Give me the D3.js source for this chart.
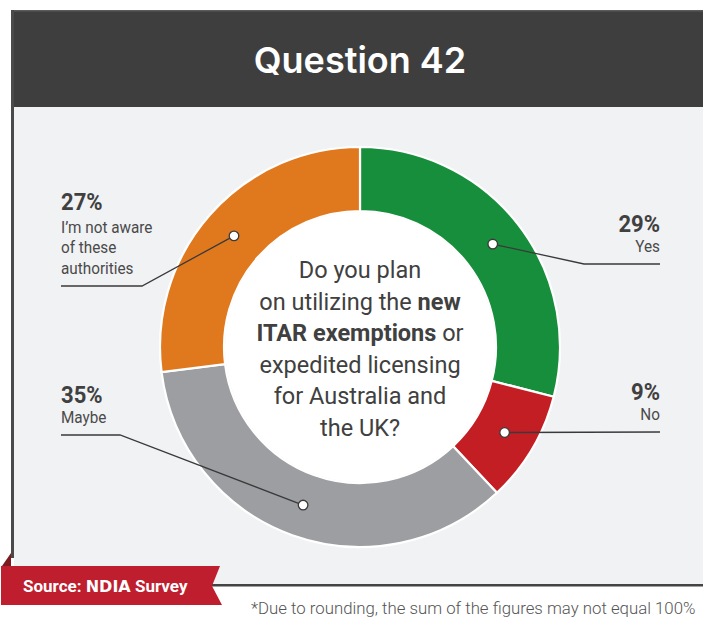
<!DOCTYPE html>
<html>
<head>
<meta charset="utf-8">
<script src="https://cdn.jsdelivr.net/npm/d3@7"></script>
<style>
  html, body { margin: 0; padding: 0; background: #ffffff; }
  svg { display: block; }
</style>
</head>
<body>
<svg id="chart" width="703" height="619"></svg>
<script>
// Survey answers, in drawing order clockwise from 12 o'clock
const categories = ["Yes", "No", "Maybe", "I\u2019m not aware of these authorities"];
const values = [29, 9, 35, 27];
const valueLabels = ["29%", "9%", "35%", "27%"];
const labelLines = [["Yes"], ["No"], ["Maybe"], ["I\u2019m not aware", "of these", "authorities"]];
const colors = ["#178e3b", "#c41e25", "#9d9ea2", "#e0791e"];

const title = "Question 42";
// question lines as [text, bold] runs
const questionLines = [
  [["Do you plan", false]],
  [["on utilizing the ", false], ["new", true]],
  [["ITAR exemptions", true], [" or", false]],
  [["expedited licensing", false]],
  [["for Australia and", false]],
  [["the UK?", false]]
];
const footnote = "*Due to rounding, the sum of the figures may not equal 100%";

const svg = d3.select("#chart");
const W = 703, H = 619;
const ink = "#404040";

// ---- frame: header bar, panel, border lines ----
svg.append("rect").attr("x", 11).attr("y", 10).attr("width", W - 11).attr("height", 97).attr("fill", "#3e3e3e");
svg.append("rect").attr("x", 11).attr("y", 10).attr("width", W - 11).attr("height", 1.5).attr("fill", "#5a5a5a");
svg.append("rect").attr("x", 14).attr("y", 107).attr("width", W - 14).attr("height", 477).attr("fill", "#f1f2f4");
svg.append("rect").attr("x", 11).attr("y", 10).attr("width", 3).attr("height", 548).attr("fill", "#4a4a4a");
svg.append("rect").attr("x", 210).attr("y", 584).attr("width", W - 210).attr("height", 2.5).attr("fill", "#444444");

svg.append("text")
  .attr("x", 360).attr("y", 73)
  .attr("text-anchor", "middle")
  .attr("font-family", "Inter, 'Open Sans', sans-serif")
  .attr("font-weight", 600)
  .attr("font-size", 36)
  .attr("fill", "#ffffff")
  .text(title);

// ---- donut ----
const cx = 360, cy = 347, rOuter = 200, rInner = 136;
const g = svg.append("g").attr("transform", `translate(${cx},${cy})`);

const pie = d3.pie().sort(null).value(d => d).startAngle(0).endAngle(2 * Math.PI);
const arcs = pie(values);
const arc = d3.arc().innerRadius(rInner).outerRadius(rOuter);

g.selectAll("path.slice")
  .data(arcs)
  .join("path")
  .attr("class", "slice")
  .attr("d", arc)
  .attr("fill", (d, i) => colors[i])
  .attr("stroke", "#ffffff")
  .attr("stroke-width", 2.2);

g.append("circle").attr("r", rInner - 1).attr("fill", "#ffffff");

// question text in the hole
const qText = g.append("text")
  .attr("text-anchor", "middle")
  .attr("font-family", "Roboto, sans-serif")
  .attr("font-size", 23.5)
  .attr("fill", ink);
const lineH = 31.6;
questionLines.forEach((runs, i) => {
  const line = qText.append("tspan").attr("x", 0).attr("y", -69 + i * lineH);
  runs.forEach(([s, bold]) => {
    line.append("tspan").attr("font-weight", bold ? 700 : 400).text(s);
  });
});

// ---- callouts ----
// label block placement for each slice (side, text x, first baseline, leader y, elbow x)
const callouts = [
  { side: "right", x: 660, y: 232, lineY: 264, elbowX: 584 },
  { side: "right", x: 660, y: 400, lineY: 432, elbowX: null },
  { side: "left",  x: 61,  y: 403, lineY: 435, elbowX: 120 },
  { side: "left",  x: 61,  y: 210, lineY: 286, elbowX: 142 }
];

arcs.forEach((a, i) => {
  const c = callouts[i];
  const [px, py] = arc.centroid(a);
  const dx = cx + px, dy = cy + py;

  const pts = c.elbowX === null
    ? [[dx, dy], [c.x, c.lineY]]
    : [[dx, dy], [c.elbowX, c.lineY], [c.x, c.lineY]];
  svg.append("path")
    .attr("d", d3.line()(pts))
    .attr("fill", "none")
    .attr("stroke", "#3a3a3a")
    .attr("stroke-width", 1.3);

  svg.append("circle")
    .attr("cx", dx).attr("cy", dy).attr("r", 4.8)
    .attr("fill", "#ffffff")
    .attr("stroke", "#3a3a3a")
    .attr("stroke-width", 1.3);

  const anchor = c.side === "right" ? "end" : "start";
  const grp = svg.append("g").attr("transform", `translate(${c.x},${c.y}) scale(0.9,1)`);
  grp.append("text")
    .attr("text-anchor", anchor)
    .attr("font-family", "Roboto, sans-serif")
    .attr("font-weight", 700)
    .attr("font-size", 24.5)
    .attr("fill", ink)
    .text(valueLabels[i]);
  const sub = labelLines[i];
  const firstGap = sub.length > 1 ? 23 : 20.5;
  sub.forEach((s, k) => {
    grp.append("text")
      .attr("y", firstGap + k * 20.5)
      .attr("text-anchor", anchor)
      .attr("font-family", "Roboto, sans-serif")
      .attr("font-weight", 400)
      .attr("font-size", 17)
      .attr("fill", "#4a4a4a")
      .text(s);
  });
});

// ---- source ribbon ----
svg.append("path")
  .attr("d", "M2,566 L11,553 L11,566 Z")
  .attr("fill", "#7c1a1f");
svg.append("path")
  .attr("d", "M1,566 L220,566 L212,586 L222,605 L1,605 Z")
  .attr("fill", "#be1e2d");
const src = svg.append("text")
  .attr("x", 23).attr("y", 592)
  .attr("font-family", "Roboto, sans-serif")
  .attr("font-weight", 700)
  .attr("font-size", 17)
  .attr("fill", "#ffffff");
src.append("tspan").text("Source: ");
src.append("tspan").attr("font-weight", 900).attr("font-family", "'DejaVu Sans', sans-serif").attr("font-size", 16).text("NDIA");
src.append("tspan").text(" Survey");

// ---- footnote ----
svg.append("text")
  .attr("x", 251).attr("y", 614)
  .attr("font-family", "Roboto, sans-serif")
  .attr("font-weight", 300)
  .attr("font-size", 16.8)
  .attr("fill", "#555555")
  .text(footnote);
</script>
</body>
</html>
